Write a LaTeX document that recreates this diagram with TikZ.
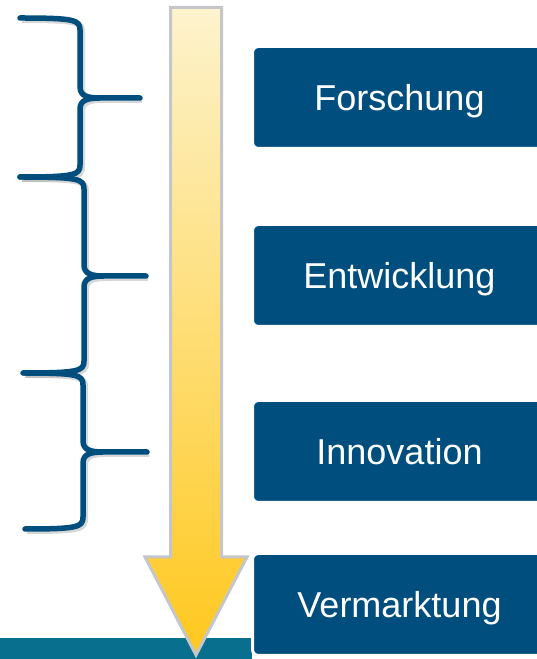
\documentclass[tikz,border=0pt]{standalone}
\usepackage{fontspec}
\setmainfont{Liberation Sans}
\usepackage{tikz}
\usetikzlibrary{positioning}
\definecolor{boxblue}{RGB}{0,78,126}
\definecolor{barteal}{RGB}{8,111,143}
\definecolor{arrowtop}{RGB}{253,243,205}
\definecolor{arrowbot}{RGB}{255,200,30}
\definecolor{arrowline}{RGB}{196,198,202}

\begin{document}
\begin{tikzpicture}[
            x=1pt, y=1pt,
            stage/.style={rectangle, rounded corners=6pt, fill=boxblue, draw=white,
              line width=3pt, minimum width=294pt, minimum height=102pt,
              text depth=0pt, text=white, font=\fontsize{36}{40}\selectfont},
            brace line/.style={draw=boxblue, line width=5.5pt, line cap=round, line join=round,
              preaction={draw=black!35, opacity=0.45, line width=6pt,
                transform canvas={shift={(2pt,-2pt)}}}}
          ]
          \useasboundingbox (0,0) rectangle (537,659);

          % Bar at the bottom
          \fill[barteal] (0,0) rectangle (252,21);

          % Arrow
          \shadedraw[top color=arrowtop, bottom color=arrowbot, draw=arrowline,
            line width=3pt, line join=miter]
            (170.5,651.5) -- (221.5,651.5) -- (221.5,102) -- (247,102)
            -- (196,4) -- (145,102) -- (170.5,102) -- cycle;

          % Stages
          \node[stage] (forschung) at (399.5,561.5) {Forschung};
          \node[stage, below=73pt of forschung] (entwicklung) {Entwicklung};
          \node[stage, below=71pt of entwicklung] (innovation) {Innovation};
          \node[stage, below=48pt of innovation] (vermarktung) {Vermarktung};

          % Braces
          \foreach \xs/\ys/\xv/\xt/\ym/\xe/\ye in {20/641/80/140/561/20/482,
                                                  20/482/84/146/383/23/286,
                                                  24/286/83/147/207/25/130}{
            \draw[brace line] (\xs,\ys) .. controls (\xv-5,\ys) and (\xv,\ys-2) .. (\xv,\ys-12)
              -- (\xv,\ym+11) .. controls (\xv,\ym+2) and (\xv+8,\ym) .. (\xv+20,\ym)
              -- (\xt,\ym) -- (\xv+20,\ym)
              .. controls (\xv+8,\ym) and (\xv,\ym-2) .. (\xv,\ym-11)
              -- (\xv,\ye+12) .. controls (\xv,\ye+2) and (\xv-5,\ye) .. (\xe,\ye);
          }

        \end{tikzpicture}
\end{document}
